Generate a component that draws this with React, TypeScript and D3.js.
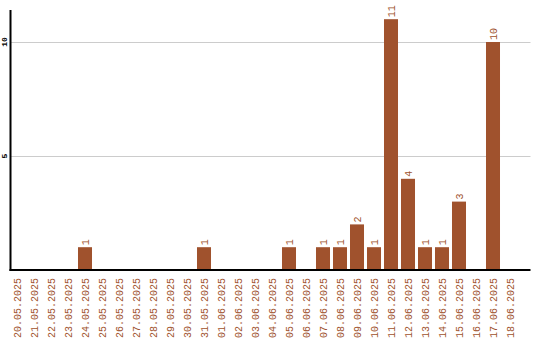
import React from "react";
import * as d3 from "d3";

const categories: string[] = [
  "20.05.2025", "21.05.2025", "22.05.2025", "23.05.2025", "24.05.2025",
  "25.05.2025", "26.05.2025", "27.05.2025", "28.05.2025", "29.05.2025",
  "30.05.2025", "31.05.2025", "01.06.2025", "02.06.2025", "03.06.2025",
  "04.06.2025", "05.06.2025", "06.06.2025", "07.06.2025", "08.06.2025",
  "09.06.2025", "10.06.2025", "11.06.2025", "12.06.2025", "13.06.2025",
  "14.06.2025", "15.06.2025", "16.06.2025", "17.06.2025", "18.06.2025",
];
const values: number[] = [
  0, 0, 0, 0, 1, 0, 0, 0, 0, 0, 0, 1, 0, 0, 0,
  0, 1, 0, 1, 1, 2, 1, 11, 4, 1, 1, 3, 0, 10, 0,
];
const yTicks: number[] = [5, 10];

const W = 540;
const H = 340;
const COLOR = "#a0522d";
const FONT = "'Liberation Mono', 'DejaVu Sans Mono', monospace";

export default function App() {
  const x = d3
    .scaleBand<string>()
    .domain(categories)
    .range([8.5, 518.5])
    .paddingInner(0.176)
    .paddingOuter(0.088);
  const y = d3.scaleLinear().domain([0, 5]).range([270, 156]);
  const left = 10.5;
  const right = 530.5;
  const base = y(0);

  return (
    <svg
      width={W}
      height={H}
      style={{ position: "absolute", left: 0, top: 0, background: "#fff" }}
    >
      {yTicks.map((t) => (
        <g key={t}>
          <line
            x1={left}
            x2={right}
            y1={Math.round(y(t)) + 0.5}
            y2={Math.round(y(t)) + 0.5}
            stroke="#cccccc"
            strokeWidth={1}
          />
          <text
            transform={`translate(4,${y(t)}) rotate(-90)`}
            textAnchor="middle"
            dy="0.35em"
            fontFamily={FONT}
            fontSize={8}
            fontWeight="bold"
            fill="#000"
          >
            {t}
          </text>
        </g>
      ))}
      {categories.map((c, i) => {
        const cx = (x(c) as number) + x.bandwidth() / 2;
        const v = values[i];
        return (
          <g key={c}>
            {v > 0 && (
              <>
                <rect
                  x={x(c)}
                  y={y(v)}
                  width={x.bandwidth()}
                  height={base - y(v)}
                  fill={COLOR}
                />
                <text
                  transform={`translate(${cx},${y(v) - 2}) rotate(-90)`}
                  textAnchor="start"
                  dy="0.35em"
                  fontFamily={FONT}
                  fontSize={10}
                  fill={COLOR}
                >
                  {v}
                </text>
              </>
            )}
            <text
              transform={`translate(${cx},278) rotate(-90)`}
              textAnchor="end"
              dy="0.35em"
              fontFamily={FONT}
              fontSize={10}
              fill={COLOR}
            >
              {c}
            </text>
          </g>
        );
      })}
      <line x1={left} x2={left} y1={10} y2={base + 1} stroke="#000" strokeWidth={2} />
      <line x1={left - 1} x2={right} y1={base} y2={base} stroke="#000" strokeWidth={2} />
    </svg>
  );
}
